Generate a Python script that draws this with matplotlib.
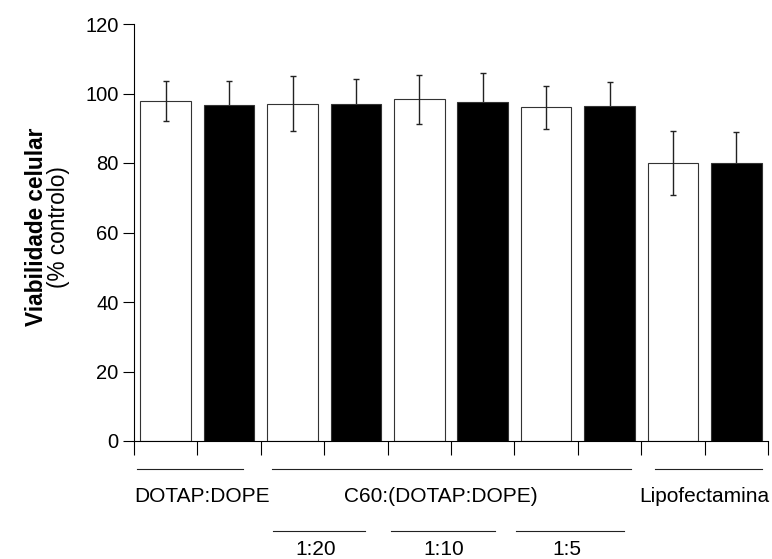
import matplotlib
matplotlib.use("Agg")
import matplotlib.pyplot as plt
from matplotlib.lines import Line2D
import numpy as np

plt.rcParams['font.family'] = ['Liberation Sans', 'DejaVu Sans']

# Data
values = [97.9, 96.8, 97.0, 97.0, 98.3, 97.6, 96.0, 96.3, 80.0, 79.9]
errors = [5.8, 6.9, 7.9, 7.1, 7.0, 8.2, 6.3, 7.1, 9.3, 8.9]
fills = ['white', 'black'] * 5
yticks = [0, 20, 40, 60, 80, 100, 120]
group_labels = ['DOTAP:DOPE', 'C60:(DOTAP:DOPE)', 'Lipofectamina']
sub_labels = ['1:20', '1:10', '1:5']

W, H = 772, 559
fig = plt.figure(figsize=(W / 100, H / 100), dpi=100)
ax = fig.add_axes([134 / W, 1 - 441 / H, (768 - 134) / W, (441 - 24) / H])

x = np.arange(len(values)) + 0.5
vals = np.array(values)
errs = np.array(errors)
ax.bar(x, vals, width=0.8, color=fills, edgecolor='#333333', linewidth=0.8, zorder=2)
white = np.array([f == 'white' for f in fills])
# error bars: in front of white bars, behind black bars
ax.errorbar(x[white], vals[white], yerr=errs[white], fmt='none', ecolor='#222222',
            elinewidth=1.0, capsize=2.3, capthick=1.0, zorder=3)
ax.errorbar(x[~white], vals[~white], yerr=errs[~white], fmt='none', ecolor='#222222',
            elinewidth=1.0, capsize=2.3, capthick=1.0, zorder=1)

ax.set_xlim(0, 10)
ax.set_ylim(0, 120)
ax.set_yticks(yticks)
ax.set_yticklabels([str(t) for t in yticks], fontsize=14.5)
ax.set_xticks(np.arange(0, 11))
ax.set_xticklabels([])
ax.tick_params(axis='y', direction='out', length=8, width=0.8, pad=3)
ax.tick_params(axis='x', direction='out', length=10, width=0.8)
for s in ['top', 'right']:
    ax.spines[s].set_visible(False)
for s in ['left', 'bottom']:
    ax.spines[s].set_linewidth(0.8)

# Group annotation layout
line_y = -8.1
text_y = -16.0
sub_line_y = -25.8
sub_text_y = -31.2
group_lines = [(0.05, 1.72), (2.17, 7.84), (8.22, 9.91)]
group_text_x = [1.07, 4.84, 9.0]
sub_lines = [(2.19, 3.65), (4.06, 5.70), (6.03, 7.73)]
sub_text_x = [2.86, 4.88, 6.83]

for (a, b), tx, lab in zip(group_lines, group_text_x, group_labels):
    ax.add_line(Line2D([a, b], [line_y, line_y], color='#222222', lw=0.8, clip_on=False))
    ax.text(tx, text_y, lab, ha='center', va='center', fontsize=15, clip_on=False)
for (a, b), tx, lab in zip(sub_lines, sub_text_x, sub_labels):
    ax.add_line(Line2D([a, b], [sub_line_y, sub_line_y], color='#222222', lw=0.8, clip_on=False))
    ax.text(tx, sub_text_y, lab, ha='center', va='center', fontsize=15, clip_on=False)

fig.text(37 / W, 1 - 227 / H, 'Viabilidade celular', rotation=90, ha='center', va='center',
         fontsize=16.3, fontweight='bold')
fig.text(58 / W, 1 - 227 / H, '(% controlo)', rotation=90, ha='center', va='center',
         fontsize=16.3)

fig.savefig('out.png', dpi=100)
